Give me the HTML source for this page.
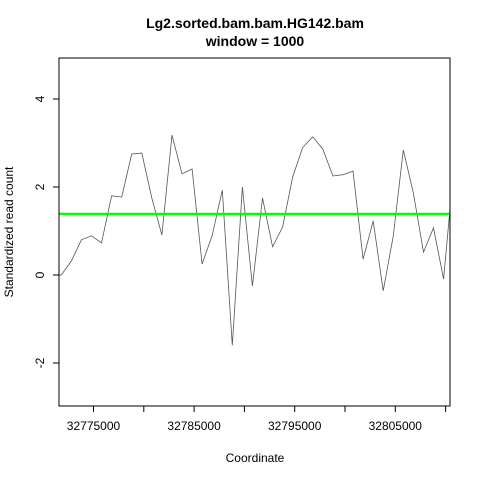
<!DOCTYPE html>
<html><head><meta charset="utf-8"><style>
body{margin:0;background:#fff}
svg text{font-family:"Liberation Sans",sans-serif;fill:#000}
</style></head><body>
<svg id="chart" width="480" height="480">
<text x="255" y="28" text-anchor="middle" font-weight="bold" font-size="14">Lg2.sorted.bam.bam.HG142.bam</text>
<text x="255" y="46" text-anchor="middle" font-weight="bold" font-size="14">window = 1000</text>
<text x="255" y="462" text-anchor="middle" font-size="12">Coordinate</text>
<text transform="translate(13,232) rotate(-90)" text-anchor="middle" font-size="12">Standardized read count</text>
<defs><clipPath id="pc"><rect x="59" y="58" width="391" height="348"/></clipPath></defs>
<g id="marks" clip-path="url(#pc)"></g>
<g id="axes"></g>
<rect x="59" y="58" width="391" height="348" fill="none" stroke="#000" stroke-width="1"/>
</svg>
<script>
const xStart = 32770800;
const xStep = 1000;
const values = [0,0,0.32,0.8,0.89,0.73,1.8,1.77,2.75,2.77,1.75,0.91,3.18,2.3,2.41,0.25,0.9,1.93,-1.6,2.0,-0.25,1.75,0.64,1.09,2.23,2.9,3.14,2.86,2.25,2.28,2.36,0.36,1.23,-0.36,0.89,2.84,1.86,0.52,1.07,-0.09,2.4];
const threshold = [1.39];
const xTicks = [32775000,32780000,32785000,32790000,32795000,32800000,32805000,32810000];
const xTickLabels = ["32775000","","32785000","","32795000","","32805000",""];
const yTicks = [-2,0,2,4];
const yTickLabels = ["-2","0","2","4"];
const X = v => 93.5 + (v - 32775000) / 1000 * 10.06;
const Y = v => 275 - v * 44;
const NS = "http://www.w3.org/2000/svg";
const marks = document.getElementById('marks');
const axes = document.getElementById('axes');
function mk(tag, attrs, parent){const e=document.createElementNS(NS,tag);for(const k in attrs)e.setAttribute(k,attrs[k]);parent.appendChild(e);return e;}
const pts = values.map((v,i)=>X(xStart+i*xStep).toFixed(1)+','+Y(v).toFixed(1)).join(' ');
const line = mk('polyline',{points:pts,fill:'none',stroke:'#555','stroke-width':0.8},marks);


threshold.forEach(t=>{
  const h = mk('line',{x1:59,x2:450,y1:Y(t),y2:Y(t),stroke:'#00ff00','stroke-width':2.2},marks);
  
  
});
xTicks.forEach((t,i)=>{
  const tk = mk('line',{x1:X(t),x2:X(t),y1:406,y2:412,stroke:'#000'},axes);
  
  
  if(xTickLabels[i]){
    const tx = mk('text',{x:X(t),y:430,'text-anchor':'middle','font-size':12},axes);
    tx.textContent = xTickLabels[i];
    
    
  }
});
yTicks.forEach((t,i)=>{
  const tk = mk('line',{x1:53,x2:59,y1:Y(t),y2:Y(t),stroke:'#000'},axes);
  
  
  const tx = mk('text',{transform:`translate(44,${Y(t)}) rotate(-90)`,'text-anchor':'middle','font-size':12},axes);
  tx.textContent = yTickLabels[i];
  
  
});
</script>
</body></html>
